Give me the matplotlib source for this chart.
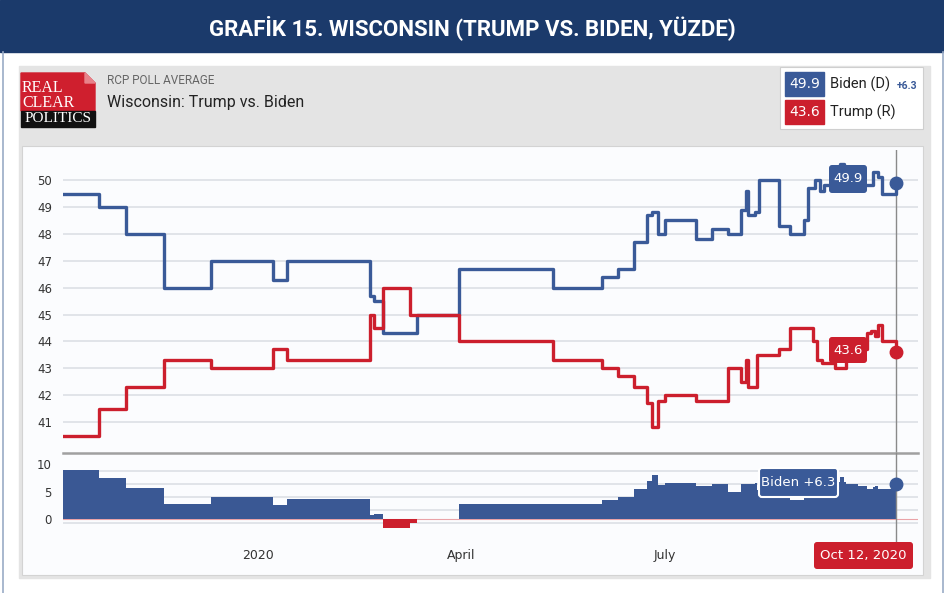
import pandas as pd
import numpy as np
import matplotlib.pyplot as plt
from matplotlib.patches import Rectangle, Polygon, FancyBboxPatch
from matplotlib.colors import LinearSegmentedColormap

W, H = 945, 593

# RCP poll average, change points (value holds until next date)
biden_dates = ['2019-10-06', '2019-10-22', '2019-11-03', '2019-11-20', '2019-12-11',
               '2020-01-08', '2020-01-14', '2020-02-20', '2020-02-22', '2020-02-26',
               '2020-03-12', '2020-03-31', '2020-05-12', '2020-06-03', '2020-06-10',
               '2020-06-17', '2020-06-23', '2020-06-25', '2020-06-28', '2020-07-01',
               '2020-07-15', '2020-07-22', '2020-07-29', '2020-08-04', '2020-08-06',
               '2020-08-07', '2020-08-10', '2020-08-12', '2020-08-21', '2020-08-26',
               '2020-09-01', '2020-09-03', '2020-09-06', '2020-09-08', '2020-09-10',
               '2020-09-17', '2020-09-19', '2020-10-02', '2020-10-04', '2020-10-06',
               '2020-10-12']
biden_vals = [49.5, 49.0, 48.0, 46.0, 47.0,
              46.3, 47.0, 45.7, 45.5, 44.3,
              45.0, 46.7, 46.0, 46.4, 46.7,
              47.7, 48.7, 48.8, 48.0, 48.5,
              47.8, 48.2, 48.0, 48.9, 49.6,
              48.7, 48.8, 50.0, 48.3, 48.0,
              48.5, 49.7, 50.0, 49.6, 49.8,
              50.6, 49.8, 50.3, 50.1, 49.5,
              49.9]

trump_dates = ['2019-10-06', '2019-10-22', '2019-11-03', '2019-11-20', '2019-12-11',
               '2020-01-08', '2020-01-14', '2020-02-20', '2020-02-22', '2020-02-26',
               '2020-03-09', '2020-03-31', '2020-05-12', '2020-06-03', '2020-06-10',
               '2020-06-17', '2020-06-23', '2020-06-25', '2020-06-28', '2020-07-01',
               '2020-07-15', '2020-07-29', '2020-08-04', '2020-08-06', '2020-08-07',
               '2020-08-11', '2020-08-21', '2020-08-26', '2020-09-05', '2020-09-07',
               '2020-09-09', '2020-09-15', '2020-09-20', '2020-09-25', '2020-09-29',
               '2020-10-01', '2020-10-03', '2020-10-04', '2020-10-06', '2020-10-12']
trump_vals = [40.5, 41.5, 42.3, 43.3, 43.0,
              43.7, 43.3, 45.0, 44.5, 46.0,
              45.0, 44.0, 43.3, 43.0, 42.7,
              42.3, 41.7, 40.8, 41.8, 42.0,
              41.8, 43.0, 42.5, 43.3, 42.3,
              43.5, 43.7, 44.5, 44.0, 43.3,
              43.2, 43.0, 43.4, 43.7, 44.3,
              44.4, 44.2, 44.6, 44.0, 43.6]

tick_dates = ['2020-01-01', '2020-04-01', '2020-07-01']
tick_labels = ['2020', 'April', 'July']
main_ticks = list(range(41, 51))
spread_ticks = [0, 5, 10]
spread_grid = [8.76, 6.39, 4.01, 1.64, -0.73]

title = 'GRAFİK 15. WISCONSIN (TRUMP VS. BIDEN, YÜZDE)'

blue = '#3a5a98'
red = '#cc1f2d'
navy = '#1b3a6b'
narrow = ['Roboto', 'DejaVu Sans']

biden = pd.Series(biden_vals, index=pd.to_datetime(biden_dates))
trump = pd.Series(trump_vals, index=pd.to_datetime(trump_dates))
both = pd.concat([biden, trump], axis=1, keys=['b', 't']).sort_index().ffill()
spread = both['b'] - both['t']
last = biden.index[-1]

fig = plt.figure(figsize=(W / 100, H / 100), dpi=100)

# background drawn in pixel coordinates
bg = fig.add_axes([0, 0, 1, 1])
bg.set_zorder(-1)
bg.axis('off')
bg.add_patch(Rectangle((0, 0), W, 52, color=navy))
bg.add_patch(Rectangle((19, 66), 911, 512, color='#e4e4e4'))
grad = LinearSegmentedColormap.from_list('g', ['#f3f3f3', '#e3e3e3'])
bg.imshow(np.linspace(0, 1, 60).reshape(-1, 1), cmap=grad, aspect='auto',
          extent=(19, 930, 146, 66), origin='upper')
bg.add_patch(Rectangle((22, 146), 901, 429, fc='#fbfcfe', ec='#d3d3d3', lw=0.8))
bg.plot([2.5, 2.5], [52, 593], color='#9aabc6', lw=1.2)
bg.plot([942.5, 942.5], [52, 593], color='#9aabc6', lw=1.2)
bg.text(W / 2, 28, title, ha='center', va='center', color='white',
        fontsize=16, fontweight='bold', family=narrow)

# logo
bg.add_patch(Polygon([(21, 73), (85, 73), (95, 83), (95, 111), (21, 111)], color='#cf1f2e'))
bg.add_patch(Polygon([(85, 73), (95, 83), (85, 83)], color='#e8828a'))
bg.add_patch(Rectangle((21, 111), 74, 16, color='#111111'))
serif = ['Liberation Serif', 'DejaVu Serif']
bg.text(22, 88, 'REAL', color='white', fontsize=11.5, family=serif, va='center')
bg.text(22, 103, 'CLEAR', color='white', fontsize=11.5, family=serif, va='center')
bg.text(58, 119, 'POLITICS', color='white', fontsize=11, family=serif,
        va='center', ha='center')

bg.text(107, 81, 'RCP POLL AVERAGE', color='#666666', fontsize=8.5, family=narrow, va='center')
bg.text(107, 103, 'Wisconsin: Trump vs. Biden', color='#222222', fontsize=11.5,
        family=narrow, va='center')

# legend box
bg.add_patch(Rectangle((780, 67), 143, 62, fc='white', ec='#cfcfcf', lw=0.8))
bg.add_patch(Rectangle((785, 72), 39, 24, color=blue))
bg.add_patch(Rectangle((785, 100), 39, 24, color=red))
bg.text(804.5, 84, f'{biden_vals[-1]:.1f}', color='white', fontsize=10, ha='center', va='center')
bg.text(804.5, 112, f'{trump_vals[-1]:.1f}', color='white', fontsize=10, ha='center', va='center')
bg.text(830, 84, 'Biden (D)', color='#222222', fontsize=10.5, family=narrow, va='center')
bg.text(897, 86, f'+{spread.iloc[-1]:.1f}', color=blue, fontsize=7.5, fontweight='bold',
        family=narrow, va='center')
bg.text(830, 112, 'Trump (R)', color='#222222', fontsize=10.5, family=narrow, va='center')
bg.set_xlim(0, W)
bg.set_ylim(H, 0)

xmin, xmax = pd.Timestamp('2019-10-06'), pd.Timestamp('2020-10-22')

# main chart
ax = fig.add_axes([63 / W, 1 - 453 / H, 855 / W, 303 / H])
ax.patch.set_alpha(0)
ax.step(biden.index, biden.values, where='post', color=blue, lw=2.4, zorder=3)
ax.step(trump.index, trump.values, where='post', color=red, lw=2.4, zorder=3)
ax.plot([last], [biden_vals[-1]], 'o', ms=9, color=blue, clip_on=False, zorder=4)
ax.plot([last], [trump_vals[-1]], 'o', ms=9, color=red, clip_on=False, zorder=4)
ax.axvline(last, color='#8a8a8a', lw=1, zorder=2)
ax.set_xlim(xmin, xmax)
ax.set_ylim(39.85, 51.12)
ax.set_yticks(main_ticks)
ax.set_xticks([])
ax.grid(axis='y', color='#dfe2e7', lw=1.3)
ax.tick_params(axis='y', length=0, pad=8, labelsize=8.5, labelcolor='#333333')
for s in ax.spines.values():
    s.set_visible(False)

# spread chart
ax2 = fig.add_axes([63 / W, 1 - 543 / H, 855 / W, 90 / H])
ax2.patch.set_alpha(0)
for g in spread_grid:
    ax2.axhline(g, color='#dfe2e7', lw=1.3, zorder=0)
ax2.fill_between(spread.index, np.clip(spread.values, 0, None), 0, step='post',
                 color='#3a5894', lw=0, zorder=2)
ax2.fill_between(spread.index, np.clip(spread.values, None, 0), 0, step='post',
                 color=red, lw=0, zorder=2)
ax2.axhline(0, color='#eaa3a8', lw=0.8, zorder=1)
ax2.plot([last], [spread.iloc[-1]], 'o', ms=9, color=blue, clip_on=False, zorder=4)
ax2.axvline(last, color='#8a8a8a', lw=1, zorder=3)
ax2.set_xlim(xmin, xmax)
ax2.set_ylim(-4.38, 12.04)
ax2.set_yticks(spread_ticks)
ax2.set_xticks(pd.to_datetime(tick_dates))
ax2.set_xticklabels(tick_labels)
ax2.tick_params(axis='y', length=0, pad=8, labelsize=8.5, labelcolor='#333333')
ax2.tick_params(axis='x', length=0, pad=4.5, labelsize=9, labelcolor='#333333')
for k, s in ax2.spines.items():
    s.set_visible(k == 'top')
ax2.spines['top'].set_color('#a0a0a0')
ax2.spines['top'].set_linewidth(1.8)

# value labels on top
fg = fig.add_axes([0, 0, 1, 1])
fg.set_zorder(10)
fg.axis('off')
fg.set_xlim(0, W)
fg.set_ylim(H, 0)


def label_box(x, y, w, h, fc, text, ec='none'):
    fg.add_patch(FancyBboxPatch((x, y), w, h, boxstyle='round,pad=0,rounding_size=3',
                                fc=fc, ec=ec, lw=1.5))
    fg.text(x + w / 2, y + h / 2, text, color='white', fontsize=9.5,
            ha='center', va='center')


label_box(829, 165, 38, 28, blue, f'{biden_vals[-1]:.1f}')
label_box(829, 337, 38, 26, red, f'{trump_vals[-1]:.1f}')
label_box(759, 468, 79, 29, blue, f'Biden +{spread.iloc[-1]:.1f}', ec='white')
label_box(814, 542, 99, 27, red, last.strftime('%b %d, %Y'))

fig.savefig('out.png', dpi=100)
